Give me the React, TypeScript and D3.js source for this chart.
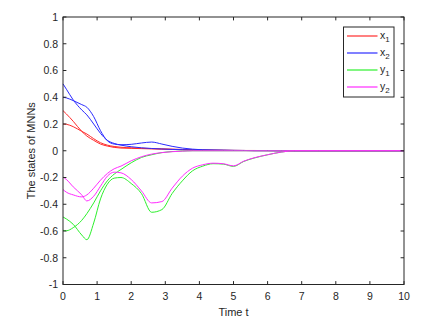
import React from "react";
import * as d3 from "d3";

const T = [0, 0.1, 0.3, 0.55, 0.7, 0.9, 1.1, 1.3, 1.5, 1.7, 2.0, 2.3, 2.6, 2.9, 3.2, 3.5, 3.8, 4.1, 4.4, 4.7, 5.0, 5.3, 5.6, 6.0, 6.4, 6.8, 7.5, 10];

const x1a = [0.3, 0.275, 0.22, 0.145, 0.11, 0.078, 0.05, 0.035, 0.025, 0.02, 0.018, 0.016, 0.014, 0.012, 0.01, 0.008, 0.006, 0.005, 0.004, 0.003, 0.002, 0.002, 0.001, 0.001, 0, 0, 0, 0];
const x1b = [0.2, 0.198, 0.18, 0.145, 0.125, 0.09, 0.06, 0.042, 0.032, 0.026, 0.022, 0.019, 0.016, 0.014, 0.012, 0.01, 0.008, 0.006, 0.005, 0.004, 0.003, 0.002, 0.002, 0.001, 0.001, 0, 0, 0];
const x2a = [0.5, 0.46, 0.38, 0.305, 0.268, 0.2, 0.13, 0.078, 0.055, 0.042, 0.03, 0.022, 0.017, 0.013, 0.01, 0.008, 0.006, 0.005, 0.004, 0.003, 0.002, 0.002, 0.001, 0.001, 0, 0, 0, 0];
const x2b = [0.4, 0.395, 0.375, 0.345, 0.325, 0.255, 0.15, 0.075, 0.05, 0.045, 0.048, 0.058, 0.065, 0.05, 0.033, 0.02, 0.012, 0.007, 0.005, 0.004, 0.003, 0.002, 0.001, 0.001, 0, 0, 0, 0];
const y1a = [-0.495, -0.51, -0.55, -0.63, -0.665, -0.54, -0.36, -0.25, -0.205, -0.2, -0.245, -0.32, -0.46, -0.44, -0.32, -0.225, -0.15, -0.115, -0.097, -0.1, -0.117, -0.08, -0.055, -0.03, -0.01, 0, 0, 0];
const y1b = [-0.595, -0.598, -0.575, -0.52, -0.47, -0.39, -0.3, -0.225, -0.175, -0.14, -0.09, -0.05, -0.03, -0.014, -0.006, -0.002, 0, 0, 0, 0, 0, 0, 0, 0, 0, 0, 0, 0];
const y2a = [-0.197, -0.215, -0.27, -0.33, -0.375, -0.34, -0.265, -0.19, -0.16, -0.165, -0.215, -0.3, -0.39, -0.38, -0.28, -0.19, -0.13, -0.105, -0.093, -0.097, -0.113, -0.078, -0.053, -0.03, -0.01, 0, 0, 0];
const y2b = [-0.29, -0.31, -0.33, -0.345, -0.33, -0.28, -0.22, -0.17, -0.135, -0.115, -0.075, -0.045, -0.025, -0.014, -0.007, -0.003, 0, 0, 0, 0, 0, 0, 0, 0, 0, 0, 0, 0];

const seriesNames = ["x", "x", "y", "y"];
const seriesSubs = ["1", "2", "1", "2"];
const seriesColors = ["#ff2a2a", "#2a2aff", "#2cf02c", "#ff2aff"];
const seriesData = [[x1a, x1b], [x2a, x2b], [y1a, y1b], [y2a, y2b]];

const xTicks = [0, 1, 2, 3, 4, 5, 6, 7, 8, 9, 10];
const yTicks = [-1, -0.8, -0.6, -0.4, -0.2, 0, 0.2, 0.4, 0.6, 0.8, 1];

export default function App() {
  const W = 428, H = 320;
  const L = 63, R = 404, Tp = 17, B = 284.5;
  const x = d3.scaleLinear().domain([0, 10]).range([L, R]);
  const y = d3.scaleLinear().domain([-1, 1]).range([B, Tp]);
  const line = d3.line<number>().x((_, i) => x(T[i])).y((v) => y(v)).curve(d3.curveMonotoneX);
  const axisColor = "#262626";
  const font = "'Liberation Sans', Arial, sans-serif";
  const tl = 3.4;
  const fmt = (v: number) => (v === 0 ? "0" : String(v));

  return (
    <svg width={W} height={H} style={{ position: "absolute", left: 0, top: 0, background: "#fff" }} fontFamily={font}>
      <rect x={0} y={0} width={W} height={H} fill="#fff" />
      <rect x={L} y={Tp} width={R - L} height={B - Tp} fill="#fff" />
      <g fill="none" strokeWidth={1}>
        {seriesData.map((pair, si) =>
          pair.map((vals, k) => (
            <path key={si + "-" + k} d={line(vals) || ""} stroke={seriesColors[si]} />
          ))
        )}
      </g>
      <g stroke={axisColor} strokeWidth={1} fill="none">
        <rect x={L} y={Tp} width={R - L} height={B - Tp} />
        {xTicks.map((t) => (
          <g key={"xt" + t}>
            <line x1={x(t)} x2={x(t)} y1={B} y2={B - tl} />
            <line x1={x(t)} x2={x(t)} y1={Tp} y2={Tp + tl} />
          </g>
        ))}
        {yTicks.map((t) => (
          <g key={"yt" + t}>
            <line x1={L} x2={L + tl} y1={y(t)} y2={y(t)} />
            <line x1={R} x2={R - tl} y1={y(t)} y2={y(t)} />
          </g>
        ))}
      </g>
      <g fill={axisColor} fontSize={10.5}>
        {xTicks.map((t) => (
          <text key={"xl" + t} x={x(t)} y={B + 15} textAnchor="middle">{fmt(t)}</text>
        ))}
        {yTicks.map((t) => (
          <text key={"yl" + t} x={L - 5} y={y(t) + 3.8} textAnchor="end">{fmt(t)}</text>
        ))}
      </g>
      <text x={(L + R) / 2} y={316} textAnchor="middle" fontSize={11} fill={axisColor}>Time t</text>
      <text transform={`translate(35,${(Tp + B) / 2}) rotate(-90)`} textAnchor="middle" fontSize={11} fill={axisColor}>The states of MNNs</text>
      <g>
        <rect x={343.5} y={27} width={50.5} height={70} fill="#fff" stroke={axisColor} strokeWidth={1} />
        {seriesNames.map((n, i) => {
          const ly = 36 + i * 17;
          return (
            <g key={"lg" + i}>
              <line x1={347} x2={377.5} y1={ly} y2={ly} stroke={seriesColors[i]} strokeWidth={1.2} />
              <text x={380} y={ly + 3} fontSize={10.5} fill={axisColor}>
                {n}
                <tspan fontSize={8} dy={3}>{seriesSubs[i]}</tspan>
              </text>
            </g>
          );
        })}
      </g>
    </svg>
  );
}
